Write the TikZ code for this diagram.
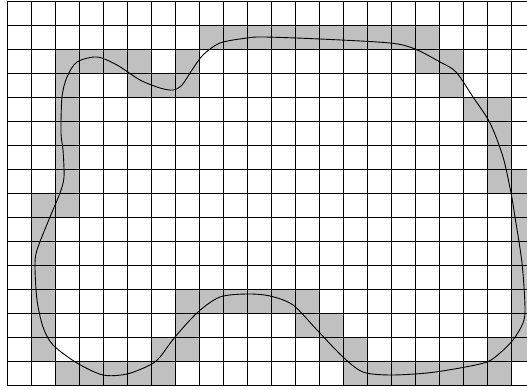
\documentclass[tikz,border=0pt]{standalone}
\definecolor{cellgray}{RGB}{192,192,192}
\tikzset{
  cellfill/.style={fill=cellgray, draw=none},
  gridline/.style={draw=black, line width=0.8pt},
  contour/.style={draw=black, line width=0.9pt},
}
\newcommand{\shadecell}[2]{\path[cellfill] ({7+24*#1},{-1-24*#2}) rectangle ++(24,-24);}
\begin{document}
\begin{tikzpicture}[x=1pt,y=1pt]
\useasboundingbox (0,0) rectangle (527,-390);
\fill[white] (0,0) rectangle (527,-390);
\clip (0,0) rectangle (527,-390);
% shaded cells
\foreach \c in {8,...,17} {\shadecell{\c}{1}}
\foreach \c in {2,3,4,5,7,17,18} {\shadecell{\c}{2}}
\foreach \c in {2,5,6,7,18} {\shadecell{\c}{3}}
\foreach \c in {2,19,20} {\shadecell{\c}{4}}
\foreach \c in {2,20} {\shadecell{\c}{5}}
\foreach \c in {2,20} {\shadecell{\c}{6}}
\foreach \c in {2,20,21} {\shadecell{\c}{7}}
\foreach \c in {1,2,21} {\shadecell{\c}{8}}
\foreach \r in {9,10,11} {\shadecell{1}{\r}\shadecell{21}{\r}}
\foreach \c in {1,7,8,9,10,11,12,21} {\shadecell{\c}{12}}
\foreach \c in {1,7,12,13,21} {\shadecell{\c}{13}}
\foreach \c in {1,6,7,13,14,20,21} {\shadecell{\c}{14}}
\foreach \c in {2,3,4,5,6,14,15,16,17,18,19,20} {\shadecell{\c}{15}}
% grid
\foreach \k in {0,...,21} {\draw[gridline] ({7+24*\k},-1) -- ({7+24*\k},-385);}
\foreach \k in {0,...,16} {\draw[gridline] (7,{-1-24*\k}) -- (527,{-1-24*\k});}
% contour
\draw[contour] plot[smooth cycle, tension=0.5] coordinates {
(63,-150) (61,-133) (62,-97) (67,-77) (77,-62) (97,-57) (117,-65) (140,-80)
(160,-88) (173,-90) (182,-85) (192,-70) (203,-55) (220,-43) (247,-38) (264,-37)
(320,-39) (390,-43) (415,-49) (440,-62) (456,-72) (473,-97) (490,-123) (503,-157)
(511,-193) (515,-217) (522,-263) (525,-307) (523,-323) (513,-340) (500,-353)
(487,-362) (460,-368) (427,-373) (390,-375) (363,-372) (343,-357) (317,-330)
(293,-305) (270,-296) (247,-294) (220,-297) (198,-312) (175,-337) (160,-357)
(150,-365) (127,-374) (103,-375) (77,-363) (53,-345) (43,-327) (37,-300)
(35,-267) (37,-250) (50,-217) (60,-193) (64,-177)};
\end{tikzpicture}
\end{document}
